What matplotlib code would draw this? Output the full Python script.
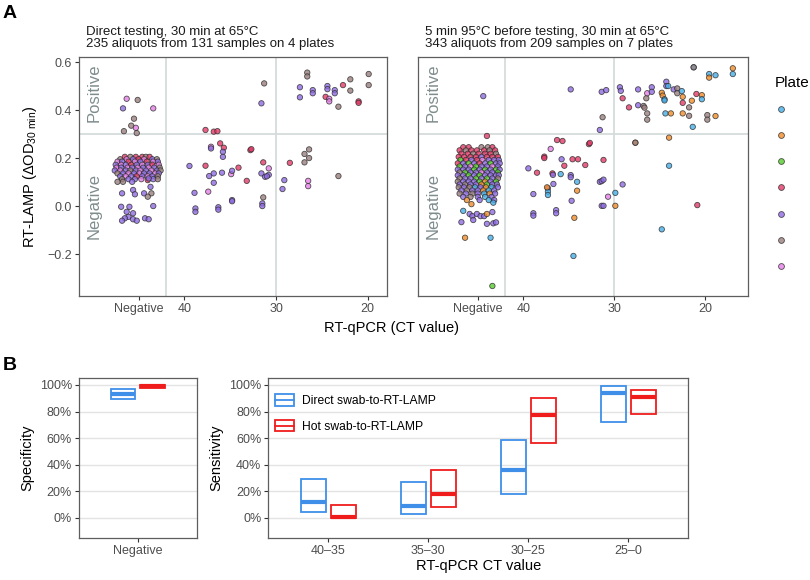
import numpy as np
import matplotlib
matplotlib.use('Agg')
import matplotlib.pyplot as plt
from matplotlib.patches import Rectangle, Patch
from matplotlib.lines import Line2D
from matplotlib.legend_handler import HandlerBase

plt.rcParams['font.family'] = ['Liberation Sans', 'DejaVu Sans']
plt.rcParams['mathtext.fontset'] = 'custom'
plt.rcParams['mathtext.rm'] = 'Liberation Sans'
plt.rcParams['mathtext.it'] = 'Liberation Sans:italic'

# plate colours (0 blue, 1 orange, 2 green, 3 red, 4 lavender, 5 brown, 6 pink)
plate_colors = ['#45AEE8', '#F28C28', '#55CC2A', '#E43A68', '#8F6BE3', '#9A7F7F', '#E57EE6']

NEG = 45  # x position of the "Negative" category

# ---- panel A left: direct testing  (ct, od, plate) ----
left_neg_pts = [
    # above threshold
    (46.3, 0.447, 6), (46.7, 0.407, 4), (45.1, 0.442, 5), (43.4, 0.407, 6), (45.5, 0.364, 5),
    (45.8, 0.335, 5), (45.3, 0.326, 6), (46.6, 0.312, 5), (45.2, 0.304, 5),
    # dense cluster
    (46.5, 0.205, 3), (45.9, 0.205, 5), (45.3, 0.205, 3), (44.6, 0.205, 3), (44.2, 0.205, 5), (43.8, 0.205, 3),
    (47.0, 0.195, 5), (46.3, 0.195, 6), (45.6, 0.195, 4), (45.0, 0.195, 3), (44.4, 0.195, 6), (43.5, 0.195, 4), (43.0, 0.195, 5),
    (47.3, 0.185, 6), (46.8, 0.185, 4), (46.1, 0.185, 3), (45.4, 0.185, 6), (44.8, 0.185, 4), (44.1, 0.185, 3), (43.4, 0.185, 6), (42.9, 0.185, 4),
    (47.5, 0.172, 4), (46.9, 0.172, 6), (46.4, 0.172, 4), (45.8, 0.172, 3), (45.2, 0.172, 4), (44.6, 0.172, 6), (44.0, 0.172, 4), (43.5, 0.172, 3), (42.8, 0.172, 6),
    (47.4, 0.160, 6), (46.9, 0.160, 4), (46.2, 0.160, 6), (45.7, 0.160, 4), (45.1, 0.160, 6), (44.5, 0.160, 4), (43.9, 0.160, 6), (43.3, 0.160, 4), (42.7, 0.160, 5),
    (47.6, 0.148, 4), (47.0, 0.148, 6), (46.4, 0.148, 4), (45.9, 0.148, 5), (45.3, 0.148, 4), (44.8, 0.148, 6), (44.2, 0.148, 4), (43.6, 0.148, 6), (43.0, 0.148, 4), (42.6, 0.148, 5),
    (47.3, 0.136, 5), (46.7, 0.136, 4), (46.1, 0.136, 6), (45.5, 0.136, 4), (44.9, 0.136, 6), (44.4, 0.136, 4), (43.8, 0.136, 4), (43.2, 0.136, 6), (42.8, 0.136, 4),
    (47.0, 0.124, 4), (46.4, 0.124, 6), (45.8, 0.124, 4), (45.2, 0.124, 3), (44.6, 0.124, 4), (44.0, 0.124, 6), (43.5, 0.124, 4), (42.9, 0.124, 5),
    (46.8, 0.112, 5), (46.1, 0.112, 4), (45.4, 0.112, 4), (44.7, 0.112, 6), (44.0, 0.108, 3), (43.4, 0.112, 4), (42.9, 0.112, 5),
    (47.3, 0.101, 5), (46.7, 0.101, 5), (45.7, 0.101, 4), (43.9, 0.115, 4), (43.7, 0.080, 4),
    # below cluster
    (46.8, 0.053, 4), (45.6, 0.067, 4), (45.4, 0.049, 4), (44.4, 0.053, 4), (43.6, 0.053, 5), (44.0, 0.039, 5),
    (46.9, -0.003, 4), (46.0, -0.003, 4), (43.4, 0.000, 4), (46.3, -0.024, 4), (45.6, -0.030, 4),
    (46.1, -0.045, 4), (46.5, -0.051, 4), (46.8, -0.061, 4), (45.6, -0.055, 4), (45.2, -0.061, 4),
    (44.3, -0.051, 4), (43.9, -0.055, 4),
]
left_ct_pts = [
    (39.45, 0.167, 4), (38.9, 0.055, 4), (38.8, -0.010, 4), (38.8, -0.024, 4), (37.7, 0.168, 3),
    (37.7, 0.317, 3), (36.8, 0.310, 3), (36.4, 0.312, 3), (37.1, 0.247, 6), (37.1, 0.240, 4),
    (36.1, 0.261, 3), (35.7, 0.243, 3), (35.8, 0.226, 4), (35.8, 0.205, 4), (37.3, 0.125, 4),
    (36.8, 0.136, 4), (36.8, 0.097, 4), (37.4, 0.060, 6), (36.3, -0.005, 4), (36.3, -0.015, 4),
    (35.9, 0.139, 4), (34.9, 0.133, 6), (34.8, 0.147, 4), (34.1, 0.160, 3), (34.8, 0.025, 4),
    (34.8, 0.020, 4), (33.2, 0.105, 3), (32.8, 0.233, 3), (32.7, 0.237, 3), (31.6, 0.136, 4),
    (31.4, 0.182, 3), (30.8, 0.157, 6), (30.8, 0.130, 4), (31.2, 0.122, 4), (31.0, 0.124, 4),
    (31.4, 0.036, 5), (31.5, 0.011, 4), (31.5, 0.000, 4), (31.6, 0.428, 4), (31.3, 0.511, 5),
    (29.1, 0.108, 4), (29.3, 0.071, 4), (28.5, 0.180, 3), (26.9, 0.217, 5), (26.4, 0.236, 5),
    (26.9, 0.182, 5), (26.4, 0.200, 5), (26.5, 0.105, 6), (26.5, 0.083, 6), (23.2, 0.125, 5),
    (27.4, 0.453, 4), (27.4, 0.495, 4), (26.6, 0.556, 5), (26.6, 0.540, 5), (26.0, 0.483, 4),
    (26.0, 0.470, 4), (24.4, 0.500, 4), (24.4, 0.487, 4), (24.6, 0.455, 3), (24.2, 0.447, 6),
    (24.2, 0.436, 6), (23.6, 0.483, 4), (23.6, 0.470, 4), (23.2, 0.414, 5), (22.7, 0.504, 3),
    (21.9, 0.528, 5), (21.9, 0.481, 5), (21.0, 0.436, 3), (21.0, 0.430, 3), (19.9, 0.550, 5),
    (19.9, 0.504, 5),
]

# ---- panel A right: 5 min 95C before testing ----
right_neg_pts = [
    (44.4, 0.458, 4), (44.0, 0.292, 3),
    (46.6, 0.245, 3), (46.0, 0.245, 3), (44.6, 0.245, 5), (43.9, 0.245, 5), (43.4, 0.245, 3),
    (47.0, 0.232, 3), (46.3, 0.232, 5), (45.7, 0.232, 3), (45.1, 0.232, 3), (44.3, 0.232, 3), (43.7, 0.232, 5), (43.1, 0.232, 3),
    (46.8, 0.218, 3), (46.1, 0.218, 3), (45.5, 0.218, 5), (44.9, 0.218, 3), (44.2, 0.218, 3), (43.6, 0.218, 3), (43.0, 0.218, 5),
    (47.1, 0.205, 3), (46.5, 0.205, 3), (45.8, 0.205, 3), (45.2, 0.205, 3), (44.6, 0.205, 4), (44.0, 0.205, 3), (43.4, 0.205, 3), (42.8, 0.205, 3),
    (46.9, 0.192, 2), (46.3, 0.192, 3), (45.7, 0.192, 4), (45.1, 0.192, 3), (44.5, 0.192, 6), (43.8, 0.192, 4), (43.2, 0.192, 4), (42.7, 0.192, 4),
    (47.2, 0.178, 3), (46.6, 0.178, 4), (46.0, 0.178, 2), (45.4, 0.178, 4), (44.8, 0.178, 3), (44.2, 0.178, 4), (43.6, 0.178, 2), (43.0, 0.178, 4), (42.6, 0.178, 4),
    (47.0, 0.165, 2), (46.4, 0.165, 4), (45.8, 0.165, 6), (45.2, 0.165, 2), (44.6, 0.165, 4), (44.0, 0.165, 4), (43.4, 0.165, 6), (42.8, 0.165, 4),
    (47.2, 0.152, 4), (46.6, 0.152, 4), (46.0, 0.152, 4), (45.4, 0.152, 2), (44.8, 0.152, 4), (44.2, 0.152, 2), (43.6, 0.152, 4), (43.0, 0.152, 2), (42.6, 0.152, 4),
    (47.0, 0.140, 5), (46.4, 0.140, 2), (45.8, 0.140, 4), (45.2, 0.140, 4), (44.6, 0.140, 6), (44.0, 0.140, 4), (43.4, 0.140, 4), (42.8, 0.140, 2),
    (47.2, 0.128, 4), (46.6, 0.128, 4), (46.0, 0.128, 2), (45.4, 0.128, 4), (44.8, 0.128, 2), (44.2, 0.128, 4), (43.6, 0.128, 4), (43.0, 0.128, 4), (42.7, 0.128, 4),
    (47.0, 0.115, 5), (46.4, 0.115, 4), (45.8, 0.115, 4), (45.2, 0.115, 2), (44.6, 0.115, 4), (44.0, 0.115, 2), (43.4, 0.115, 4), (42.8, 0.115, 5),
    (47.2, 0.102, 5), (46.6, 0.102, 4), (46.0, 0.102, 4), (45.4, 0.102, 4), (44.8, 0.102, 2), (44.2, 0.102, 1), (43.6, 0.102, 4), (43.0, 0.102, 2),
    (47.0, 0.090, 4), (46.4, 0.090, 5), (45.8, 0.090, 4), (45.2, 0.090, 4), (44.6, 0.090, 1), (44.0, 0.090, 2), (43.4, 0.090, 4), (42.9, 0.090, 4),
    (47.1, 0.078, 5), (46.5, 0.078, 4), (45.9, 0.078, 5), (45.3, 0.078, 0), (44.7, 0.078, 4), (44.1, 0.078, 1), (43.5, 0.078, 0), (42.8, 0.078, 4),
    (46.8, 0.065, 4), (46.2, 0.065, 5), (45.6, 0.065, 4), (45.0, 0.065, 4), (44.4, 0.065, 1), (43.8, 0.065, 0), (43.2, 0.065, 4),
    (47.0, 0.052, 5), (46.3, 0.052, 4), (45.6, 0.052, 5), (45.0, 0.052, 4), (44.3, 0.052, 0), (43.7, 0.052, 1), (43.1, 0.052, 4),
    (46.6, 0.038, 4), (45.8, 0.038, 5), (45.0, 0.038, 4), (44.2, 0.038, 0), (43.5, 0.038, 4),
    (46.2, 0.025, 1), (44.8, 0.025, 4), (43.8, 0.025, 0), (43.2, 0.025, 4),
    (45.7, 0.008, 1), (46.6, -0.020, 0), (45.9, -0.033, 4), (45.6, -0.042, 4), (45.1, -0.033, 4),
    (44.7, -0.042, 4), (44.3, -0.042, 4), (44.0, -0.033, 1), (43.4, -0.025, 4), (43.3, 0.014, 0),
    (46.8, -0.067, 4), (45.5, -0.058, 4), (44.0, -0.074, 4), (43.3, -0.072, 4), (43.0, -0.068, 4),
    (46.4, -0.132, 1), (43.6, -0.132, 0), (43.4, -0.333, 2),
]
right_ct_pts = [
    (34.8, 0.486, 4), (31.4, 0.476, 4), (30.9, 0.483, 4), (31.3, 0.370, 5), (31.6, 0.317, 4),
    (29.4, 0.495, 4), (29.3, 0.480, 4), (29.1, 0.449, 3), (28.4, 0.411, 3), (27.4, 0.486, 4),
    (27.4, 0.420, 4), (26.8, 0.417, 5), (26.7, 0.410, 5), (26.4, 0.386, 5), (26.4, 0.360, 5),
    (26.5, 0.449, 5), (26.4, 0.470, 6), (25.9, 0.495, 4), (25.9, 0.476, 4), (24.8, 0.472, 1),
    (24.7, 0.460, 1), (24.5, 0.445, 0), (24.5, 0.440, 0), (24.4, 0.386, 0), (23.8, 0.386, 1),
    (24.3, 0.518, 4), (24.3, 0.500, 4), (24.1, 0.500, 0), (23.5, 0.486, 4), (23.1, 0.490, 5),
    (23.1, 0.470, 5), (22.6, 0.479, 0), (22.5, 0.455, 1), (22.5, 0.430, 3), (22.5, 0.386, 1),
    (21.8, 0.411, 5), (21.8, 0.376, 5), (21.5, 0.439, 1), (21.4, 0.330, 0), (21.3, 0.578, 0),
    (21.3, 0.578, 5), (21.0, 0.467, 3), (20.4, 0.462, 1), (20.4, 0.445, 0), (19.8, 0.379, 5),
    (19.8, 0.360, 5), (18.9, 0.375, 1), (19.6, 0.550, 0), (19.6, 0.535, 1), (18.9, 0.545, 0),
    (17.0, 0.574, 1), (17.0, 0.550, 0),
    (36.3, 0.275, 3), (35.7, 0.271, 3), (37.0, 0.238, 6), (37.7, 0.206, 3), (37.7, 0.200, 3),
    (39.45, 0.157, 4), (38.5, 0.139, 3), (36.8, 0.136, 3), (36.75, 0.130, 4), (36.7, 0.092, 4),
    (37.3, 0.074, 4), (37.3, 0.060, 0), (35.8, 0.195, 4), (35.5, 0.168, 3), (35.9, 0.133, 0),
    (34.8, 0.129, 4), (34.8, 0.120, 4), (34.6, 0.195, 3), (34.0, 0.195, 3), (34.1, 0.101, 0),
    (33.2, 0.171, 3), (32.8, 0.258, 3), (32.7, 0.263, 3), (31.2, 0.192, 3), (31.6, 0.101, 4),
    (31.4, 0.104, 4), (31.2, 0.110, 4), (29.1, 0.090, 4), (29.9, 0.055, 0), (30.7, 0.039, 6),
    (31.4, 0.001, 4), (31.2, 0.001, 4), (29.9, 0.001, 1), (34.1, 0.064, 1), (34.7, 0.022, 4),
    (38.9, 0.050, 4), (38.9, -0.030, 4), (38.9, -0.040, 4), (36.4, -0.017, 4), (36.4, -0.030, 4),
    (34.4, -0.049, 1), (34.5, -0.208, 0), (37.4, 0.078, 1), (37.3, 0.046, 0), (27.7, 0.264, 1),
    (27.7, 0.264, 5), (24.0, 0.285, 1), (24.0, 0.168, 0), (20.9, 0.004, 3), (24.8, -0.097, 0),
]

# ---- panel B: crossbars (lower, median, upper) ----
groups = ['Direct swab-to-RT-LAMP', 'Hot swab-to-RT-LAMP']
group_colors = ['#3F8FE8', '#F01C1C']
spec_vals = [(0.894, 0.932, 0.972), (0.977, 0.992, 1.0)]
sens_cats = ['40–35', '35–30', '30–25', '25–0']
sens_direct = [(0.043, 0.118, 0.29), (0.025, 0.088, 0.27), (0.176, 0.357, 0.588), (0.719, 0.94, 0.99)]
sens_hot = [(0.0, 0.004, 0.095), (0.078, 0.18, 0.357), (0.565, 0.776, 0.90), (0.78, 0.907, 0.965)]

W, H = 810, 580
fig = plt.figure(figsize=(8.1, 5.8), dpi=100)


def fax(x0, y0, x1, y1):
    return fig.add_axes([x0 / W, 1 - y1 / H, (x1 - x0) / W, (y1 - y0) / H])


tick_col = '#4D4D4D'
spine_col = '#5E5E5E'


def style(ax):
    for s in ax.spines.values():
        s.set_color(spine_col)
        s.set_linewidth(0.9)
    ax.tick_params(colors='#333333', labelcolor=tick_col, labelsize=9, length=3, width=0.8, pad=2)


ax_l = fax(79, 57, 387, 296.3)
ax_r = fax(417.7, 57, 748.3, 296.3)

panels = [
    (ax_l, left_neg_pts + left_ct_pts, (51.5, 17.9),
     'Direct testing, 30 min at 65°C\n235 aliquots from 131 samples on 4 plates'),
    (ax_r, right_neg_pts + right_ct_pts, (51.6, 15.3),
     '5 min 95°C before testing, 30 min at 65°C\n343 aliquots from 209 samples on 7 plates'),
]
for ax, pts, xl, title in panels:
    style(ax)
    arr = np.array(pts)
    cols = [plate_colors[int(p)] for p in arr[:, 2]]
    ax.axhline(0.3, color='#D5DBDB', lw=1.3, zorder=0)
    for gx in [42, 30]:
        ax.axvline(gx, color='#D5DBDB', lw=1.3, zorder=0)
    ax.scatter(arr[:, 0], arr[:, 1], c=cols, s=15, alpha=0.8,
               edgecolors='#2B2B2B', linewidths=0.6, zorder=2)
    ax.set_xlim(*xl)
    ax.set_ylim(-0.376, 0.621)
    ax.set_xticks([NEG, 40, 30, 20])
    ax.set_xticklabels(['Negative', '40', '30', '20'])
    ax.set_yticks([-0.2, 0.0, 0.2, 0.4, 0.6])
    ax.text(49.9, 0.47, 'Positive', rotation=90, ha='center', va='center',
            color='#7F8C8D', fontsize=12)
    ax.text(49.9, 0.0, 'Negative', rotation=90, ha='center', va='center',
            color='#7F8C8D', fontsize=12)
    ax.annotate(title, xy=(0, 1), xycoords='axes fraction', xytext=(7, 7),
                textcoords='offset pixels', ha='left', va='bottom',
                fontsize=9.5, color='#1A1A1A', linespacing=1.05)

ax_l.set_yticklabels(['−0.2', '0.0', '0.2', '0.4', '0.6'])
ax_l.set_ylabel('RT-LAMP (ΔOD$_{\\mathrm{30\\ min}}$)', fontsize=10.5, labelpad=6)
ax_r.tick_params(axis='y', left=False, labelleft=False)

fig.text(391 / W, 1 - 328 / H, 'RT-qPCR (CT value)', ha='center', va='center', fontsize=10.5)

# plate legend (no labels)
plate_handles = [Line2D([], [], marker='o', ls='', markersize=4.2, markerfacecolor=c,
                        markeredgecolor='#2B2B2B', markeredgewidth=0.6, alpha=0.8)
                 for c in plate_colors]
fig.legend(plate_handles, [''] * 7, title='Plate', loc='upper left',
           bbox_to_anchor=(768 / W, 1 - 70 / H), frameon=False, fontsize=9,
           title_fontsize=11, handlelength=1.0, handletextpad=0.0,
           labelspacing=1.13, borderpad=0, alignment='left')

fig.text(3 / W, 1 - 14 / H, 'A', fontsize=14, fontweight='bold', va='center', ha='left')
fig.text(3 / W, 1 - 365 / H, 'B', fontsize=14, fontweight='bold', va='center', ha='left')

# ---- panel B ----
ax_s = fax(79, 378.3, 196.7, 537.7)
ax_n = fax(268.3, 378.3, 688, 537.7)
BW, OFF = 0.25, 0.15


def crossbar(ax, x, vals, col):
    lo, med, hi = vals
    ax.add_patch(Rectangle((x - BW / 2, lo), BW, hi - lo, fill=False,
                           edgecolor=col, lw=1.3, zorder=3))
    ax.plot([x - BW / 2, x + BW / 2], [med, med], color=col, lw=3, zorder=3,
            solid_capstyle='butt')


for ax in (ax_s, ax_n):
    style(ax)
    ax.set_ylim(-0.15, 1.05)
    ax.set_yticks([0, 0.2, 0.4, 0.6, 0.8, 1.0])
    ax.set_yticklabels(['0%', '20%', '40%', '60%', '80%', '100%'])
    ax.grid(axis='y', color='#E3E3E3', lw=1.0)
    ax.set_axisbelow(True)

for i, col in enumerate(group_colors):
    crossbar(ax_s, 1 + (i - 0.5) * 2 * OFF, spec_vals[i], col)
ax_s.set_xlim(0.4, 1.6)
ax_s.set_xticks([1])
ax_s.set_xticklabels(['Negative'])
ax_s.set_ylabel('Specificity', fontsize=10.5, labelpad=4)

for j in range(len(sens_cats)):
    crossbar(ax_n, j + 1 - OFF, sens_direct[j], group_colors[0])
    crossbar(ax_n, j + 1 + OFF, sens_hot[j], group_colors[1])
ax_n.set_xlim(0.4, 4.6)
ax_n.set_xticks(range(1, len(sens_cats) + 1))
ax_n.set_xticklabels(sens_cats)
ax_n.set_ylabel('Sensitivity', fontsize=10.5, labelpad=4)
ax_n.set_xlabel('RT-qPCR CT value', fontsize=10.5, labelpad=2)


class CrossbarHandler(HandlerBase):
    def create_artists(self, legend, orig_handle, xdescent, ydescent, width, height, fontsize, trans):
        col = orig_handle.get_edgecolor()
        r = Rectangle((-xdescent, -ydescent), width, height, fill=False,
                      edgecolor=col, lw=1.3, transform=trans)
        m = Line2D([-xdescent, -xdescent + width], [-ydescent + height / 2] * 2,
                   color=col, lw=1.3, transform=trans)
        return [r, m]


leg_handles = [Patch(facecolor='none', edgecolor=c) for c in group_colors]
ax_n.legend(leg_handles, groups, loc='upper left', bbox_to_anchor=(0.017, 0.9),
            frameon=False, fontsize=8.7, handlelength=1.5, handleheight=1.1,
            handletextpad=0.7, labelspacing=1.05, borderpad=0, borderaxespad=0,
            handler_map={Patch: CrossbarHandler()})

fig.savefig('out.png', dpi=100)
